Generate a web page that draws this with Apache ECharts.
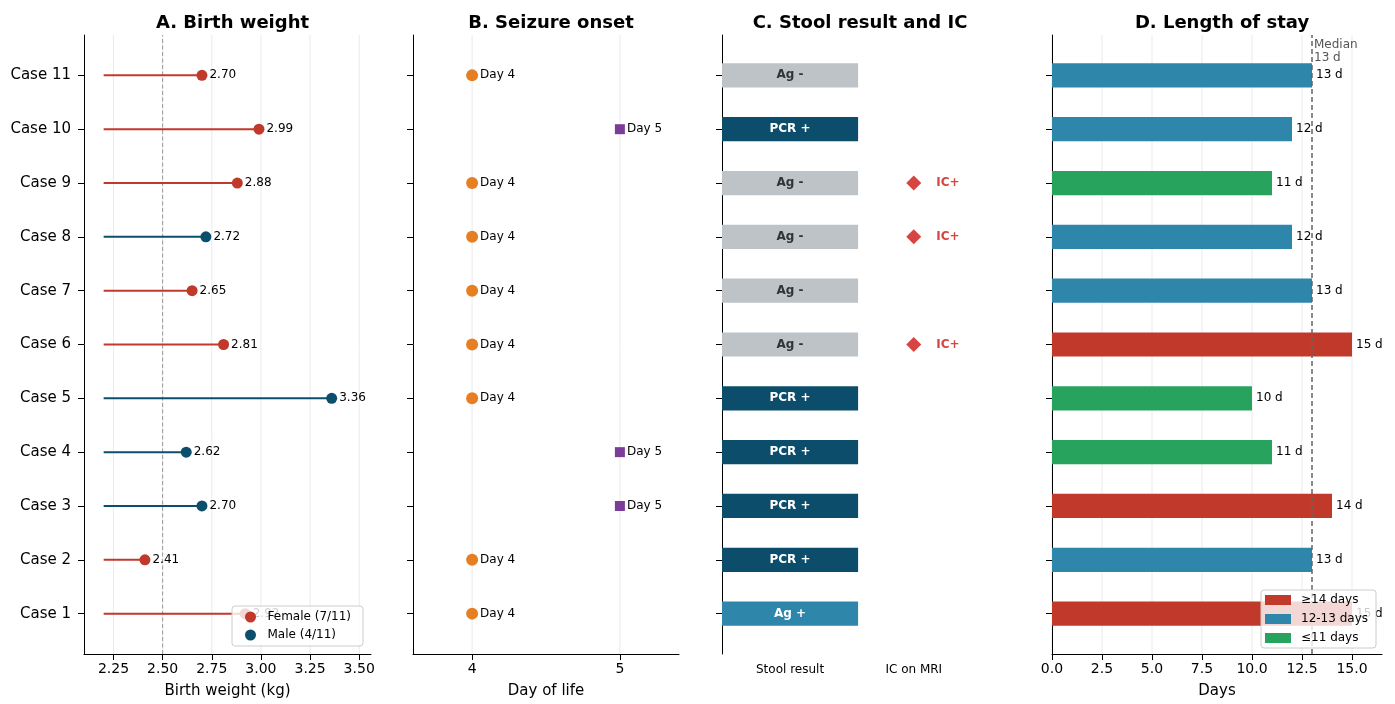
<!DOCTYPE html>
<html><head><meta charset="utf-8">
<script src="https://cdn.jsdelivr.net/npm/echarts@6/dist/echarts.min.js"></script>
<style>html,body{margin:0;padding:0;background:#fff}#c{width:1395px;height:704px}</style>
</head><body><div id="c"></div>
<script>
// ---- data ----
const caseNums = [1, 2, 3, 4, 5, 6, 7, 8, 9, 10, 11];
const birthWeight = [2.92, 2.41, 2.70, 2.62, 3.36, 2.81, 2.65, 2.72, 2.88, 2.99, 2.70];
const sex = ['F', 'F', 'M', 'M', 'M', 'F', 'F', 'M', 'F', 'F', 'F'];
const seizureDay = [4, 4, 5, 5, 4, 4, 4, 4, 4, 5, 4];
const stoolResult = ['Ag +', 'PCR +', 'PCR +', 'PCR +', 'PCR +', 'Ag -', 'Ag -', 'Ag -', 'Ag -', 'PCR +', 'Ag -'];
const icOnMri = [false, false, false, false, false, true, false, true, true, false, false];
const lengthOfStay = [15, 13, 14, 11, 10, 15, 13, 12, 11, 12, 13];
const bwTicks = [2.25, 2.50, 2.75, 3.00, 3.25, 3.50];
const dayTicks = [4, 5];
const losTicks = [0, 2.5, 5, 7.5, 10, 12.5, 15];
const cTicks = [0, 1];
const cTickLabels = ['Stool result', 'IC on MRI'];
const bwStemStart = 2.2;
const bwReference = 2.5;
const losMedian = 13;
const titles = ['A. Birth weight', 'B. Seizure onset', 'C. Stool result and IC', 'D. Length of stay'];
const legendA = ['Female (7/11)', 'Male (4/11)'];
const legendD = ['\u226514 days', '12-13 days', '\u226411 days'];

// ---- styles ----
const FONT = 'DejaVu Sans';
const C = {
  female: '#c0392b', male: '#0b4f6c', day4: '#e67e22', day5: '#7d3c98',
  agNeg: '#bdc3c7', pcr: '#0b4d6a', agPos: '#2e86ab', ic: '#d64541',
  long: '#c0392b', mid: '#2e86ab', short: '#27a35e', grid: '#ebebeb'
};
const YMIN = 0.25, YMAX = 11.75;
const grids = [
  {left: 84, width: 287, top: 35, height: 619},
  {left: 413, width: 266, top: 35, height: 619},
  {left: 722, width: 266, top: 35, height: 619},
  {left: 1052, width: 330, top: 35, height: 619}
];

function yAxis(i) {
  return {
    type: 'value', gridIndex: i, min: YMIN, max: YMAX,
    axisLine: {show: true, onZero: false, lineStyle: {color: '#000', width: 1}},
    axisTick: {show: true, customValues: caseNums, length: 6, lineStyle: {color: '#000'}},
    axisLabel: {show: i === 0, customValues: caseNums, formatter: v => 'Case ' + v,
      fontSize: 15, color: '#000', margin: 13, fontFamily: FONT},
    splitLine: {show: false}
  };
}
function xAxis(i, min, max, ticks, fmt, name, opts) {
  opts = opts || {};
  return {
    type: 'value', gridIndex: i, min: min, max: max,
    name: name, nameLocation: 'middle', nameGap: 30,
    nameTextStyle: {fontSize: 15, color: '#000', fontFamily: FONT},
    axisLine: {show: opts.noLine ? false : true, onZero: false, lineStyle: {color: '#000', width: 1}},
    axisTick: {show: !opts.noLine, customValues: ticks, length: 6, lineStyle: {color: '#000'}},
    axisLabel: {customValues: ticks, formatter: fmt, fontSize: opts.labelSize || 14, color: '#000',
      margin: opts.margin || 8, fontFamily: FONT},
    splitLine: {show: false}
  };
}
function gridLines(i, ticks) {
  return {
    type: 'custom', xAxisIndex: i, yAxisIndex: i, silent: true, z: 0,
    data: ticks.map(t => [t]),
    encode: {x: 0},
    renderItem: (p, api) => {
      const a = api.coord([api.value(0), YMIN]), b = api.coord([api.value(0), YMAX]);
      return {type: 'line', shape: {x1: a[0], y1: a[1], x2: b[0], y2: b[1]},
        style: {stroke: C.grid, lineWidth: 1}};
    }
  };
}

const series = [];
// Panel A
series.push(gridLines(0, bwTicks));
series.push({
  type: 'custom', xAxisIndex: 0, yAxisIndex: 0, silent: true, z: 1,
  data: [[bwReference]], encode: {x: 0},
  renderItem: (p, api) => {
    const a = api.coord([api.value(0), YMIN]), b = api.coord([api.value(0), YMAX]);
    return {type: 'line', shape: {x1: a[0], y1: a[1], x2: b[0], y2: b[1]},
      style: {stroke: '#9a9a9a', lineWidth: 1, lineDash: [4, 2.5]}};
  }
});
[['F', legendA[0], C.female], ['M', legendA[1], C.male]].forEach(([s, nm, col]) => {
  const rows = caseNums.map((c, k) => [birthWeight[k], c, sex[k]]).filter(r => r[2] === s).map(r => [r[0], r[1]]);
  series.push({
    type: 'custom', name: 'stem' + s, xAxisIndex: 0, yAxisIndex: 0, z: 2, silent: true,
    data: rows, encode: {x: 0, y: 1},
    renderItem: (p, api) => {
      const a = api.coord([bwStemStart, api.value(1)]), b = api.coord([api.value(0), api.value(1)]);
      return {type: 'line', shape: {x1: a[0], y1: a[1], x2: b[0], y2: b[1]},
        style: {stroke: col, lineWidth: 2}};
    }
  });
  series.push({
    type: 'scatter', name: nm, xAxisIndex: 0, yAxisIndex: 0, z: 3,
    data: rows, symbol: 'circle', symbolSize: 11, itemStyle: {color: col, opacity: 1},
    label: {show: true, position: 'right', distance: 2, formatter: p => p.value[0].toFixed(2),
      fontSize: 12, color: '#000', fontFamily: FONT}
  });
});

// Panel B
series.push(gridLines(1, dayTicks));
[[4, 'circle', 12, C.day4], [5, 'rect', 10, C.day5]].forEach(([d, sym, sz, col]) => {
  const rows = caseNums.map((c, k) => [seizureDay[k], c]).filter(r => r[0] === d);
  series.push({
    type: 'scatter', name: 'Day ' + d, xAxisIndex: 1, yAxisIndex: 1, z: 3,
    data: rows, symbol: sym, symbolSize: sz, itemStyle: {color: col, opacity: 1},
    label: {show: true, position: 'right', distance: 2, formatter: 'Day ' + d,
      fontSize: 12, color: '#000', fontFamily: FONT}
  });
});

// Panel C
const stoolColor = {'Ag -': C.agNeg, 'PCR +': C.pcr, 'Ag +': C.agPos};
const stoolText = {'Ag -': '#333333', 'PCR +': '#ffffff', 'Ag +': '#ffffff'};
series.push({
  type: 'custom', name: 'stool', xAxisIndex: 2, yAxisIndex: 2, z: 2, silent: true,
  data: caseNums.map((c, k) => [0, c, k]), encode: {x: 0, y: 1},
  renderItem: (p, api) => {
    const k = api.value(2), y = api.value(1), r = stoolResult[k];
    const a = api.coord([api.value(0) - 0.55, y + 0.225]), b = api.coord([api.value(0) + 0.55, y - 0.225]);
    return {type: 'group', children: [
      {type: 'rect', shape: {x: a[0], y: a[1], width: b[0] - a[0], height: b[1] - a[1]}, style: {fill: stoolColor[r]}},
      {type: 'text', style: {text: r, x: (a[0] + b[0]) / 2, y: (a[1] + b[1]) / 2, align: 'center', verticalAlign: 'middle',
        fontSize: 12, fontWeight: 'bold', fill: stoolText[r], fontFamily: FONT}}
    ]};
  }
});
series.push({
  type: 'scatter', name: 'IC+', xAxisIndex: 2, yAxisIndex: 2, z: 3,
  data: caseNums.filter((c, k) => icOnMri[k]).map(c => [1, c]),
  symbol: 'diamond', symbolSize: 15, itemStyle: {color: C.ic, opacity: 1},
  label: {show: true, position: 'right', distance: 15, formatter: 'IC+', fontSize: 12,
    fontWeight: 'bold', color: C.ic, fontFamily: FONT}
});

// Panel D
series.push(gridLines(3, losTicks));
[[legendD[0], C.long, v => v >= 14], [legendD[1], C.mid, v => v >= 12 && v <= 13], [legendD[2], C.short, v => v <= 11]].forEach(([nm, col, test]) => {
  series.push({
    type: 'custom', name: nm, xAxisIndex: 3, yAxisIndex: 3, z: 2, silent: true,
    itemStyle: {color: col},
    data: caseNums.map((c, k) => [lengthOfStay[k], c]).filter(r => test(r[0])), encode: {x: 0, y: 1},
    renderItem: (p, api) => {
      const v = api.value(0), y = api.value(1);
      const a = api.coord([0, y + 0.225]), b = api.coord([v, y - 0.225]);
      return {type: 'group', children: [
        {type: 'rect', shape: {x: a[0], y: a[1], width: b[0] - a[0], height: b[1] - a[1]}, style: {fill: col}},
        {type: 'text', style: {text: v + ' d', x: b[0] + 4, y: (a[1] + b[1]) / 2, verticalAlign: 'middle',
          fontSize: 12, fill: '#000', fontFamily: FONT}}
      ]};
    }
  });
});
series.push({
  type: 'custom', name: 'median', xAxisIndex: 3, yAxisIndex: 3, z: 3, silent: true,
  data: [[losMedian]], encode: {x: 0},
  renderItem: (p, api) => {
    const a = api.coord([api.value(0), YMIN]), b = api.coord([api.value(0), YMAX]);
    return {type: 'group', children: [
      {type: 'line', shape: {x1: a[0], y1: a[1], x2: b[0], y2: b[1]},
        style: {stroke: '#666666', lineWidth: 1.5, lineDash: [5, 3]}},
      {type: 'text', style: {text: 'Median\n' + api.value(0) + ' d', x: b[0] + 2, y: b[1] + 3,
        verticalAlign: 'top', fontSize: 12, lineHeight: 13, fill: '#555555', fontFamily: FONT}}
    ]};
  }
});

const option = {
  animation: false,
  backgroundColor: '#fff',
  textStyle: {fontFamily: FONT},
  title: titles.map((t, i) => ({
    text: t, left: grids[i].left + grids[i].width / 2, top: 9, textAlign: 'center',
    textStyle: {fontSize: 18, fontWeight: 'bold', color: '#000', fontFamily: FONT}
  })),
  grid: grids,
  xAxis: [
    xAxis(0, 2.1, 3.56, bwTicks, v => v.toFixed(2), 'Birth weight (kg)'),
    xAxis(1, 3.6, 5.4, dayTicks, v => String(v), 'Day of life'),
    xAxis(2, -0.55, 1.6, cTicks, v => cTickLabels[v], '', {noLine: true, labelSize: 12, margin: 10}),
    xAxis(3, 0, 16.5, losTicks, v => v.toFixed(1), 'Days')
  ],
  yAxis: [yAxis(0), yAxis(1), yAxis(2), yAxis(3)],
  legend: [
    {data: legendA.map(n => ({name: n, icon: 'circle'})), orient: 'vertical', left: 232, top: 606,
      itemWidth: 20, itemHeight: 11, itemGap: 6, padding: [5, 12, 5, 13],
      backgroundColor: 'rgba(255,255,255,0.8)', borderColor: '#cccccc', borderWidth: 1, borderRadius: 3,
      textStyle: {fontSize: 12, color: '#000', fontFamily: FONT, padding: [0, 0, 0, 2]}},
    {data: legendD.map(n => ({name: n, icon: 'rect'})), orient: 'vertical', left: 1261, top: 590,
      itemWidth: 26, itemHeight: 10, itemGap: 7, padding: [4, 8, 4, 4],
      backgroundColor: 'rgba(255,255,255,0.8)', borderColor: '#cccccc', borderWidth: 1, borderRadius: 3,
      textStyle: {fontSize: 12, color: '#000', fontFamily: FONT, padding: [0, 0, 0, 5]}}
  ],
  series: series
};
const chart = echarts.init(document.getElementById('c'), null, {renderer: 'canvas'});
chart.setOption(option);
</script></body></html>
